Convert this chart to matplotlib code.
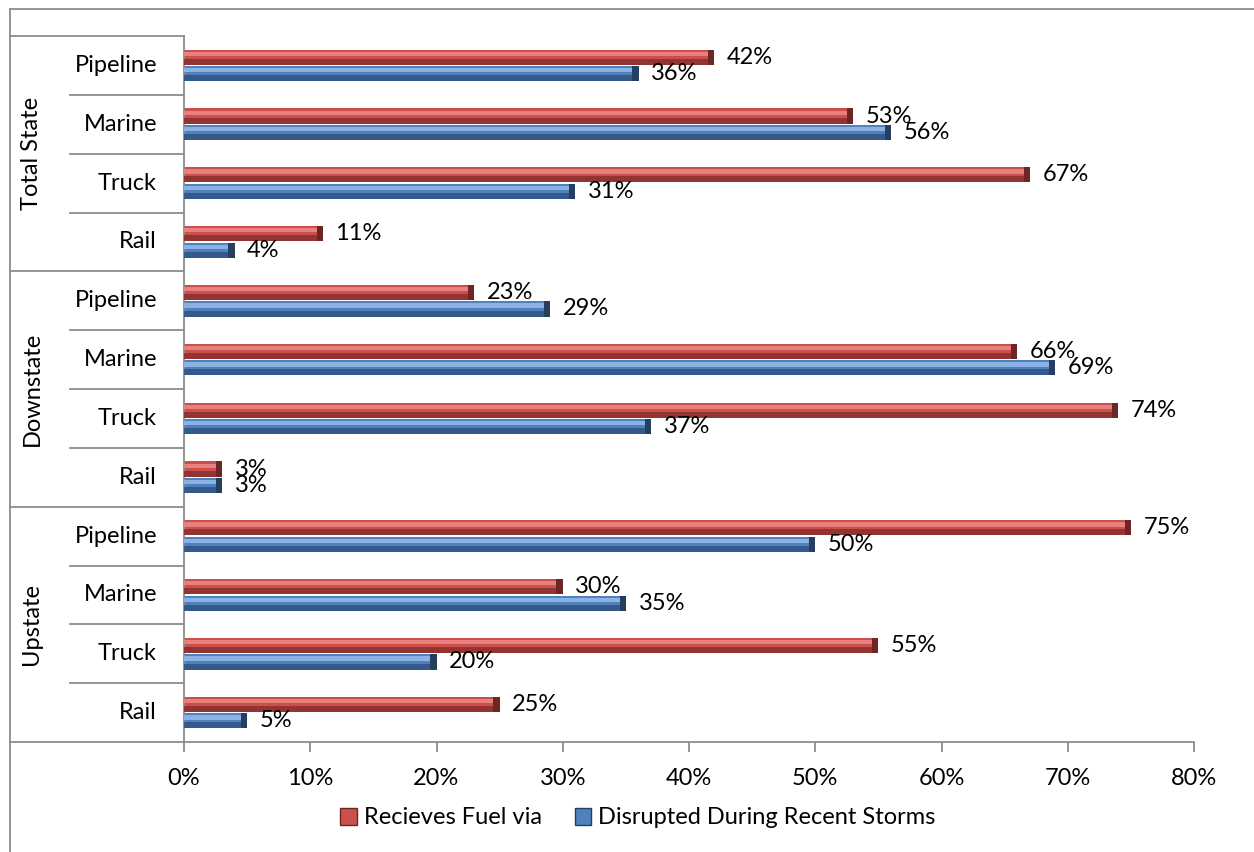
import matplotlib
matplotlib.use("Agg")
import matplotlib.pyplot as plt
from matplotlib.lines import Line2D
from matplotlib.patches import Patch

plt.rcParams['font.family'] = ['Lato', 'DejaVu Sans']

# fuel delivery survey, by region and mode
groups = ['Total State', 'Downstate', 'Upstate']
modes = ['Pipeline', 'Marine', 'Truck', 'Rail']
receives = [42, 53, 67, 11,
            23, 66, 74, 3,
            75, 30, 55, 25]
disrupted = [36, 56, 31, 4,
             29, 69, 37, 3,
             50, 35, 20, 5]
series_names = ['Recieves Fuel via', 'Disrupted During Recent Storms']
xticks = [0, 10, 20, 30, 40, 50, 60, 70, 80]

W, H = 1254, 852
FS = 17
fig = plt.figure(figsize=(W / 100, H / 100), dpi=100)


def fx(px):
    return px / W


def fy(py):
    return 1 - py / H


ax = fig.add_axes([fx(184), fy(742), fx(1194) - fx(184), fy(36) - fy(742)])

n = len(receives)
ypos = [n - 1 - i for i in range(n)]  # first row at the top
bh = 0.26
off = 0.14

red = dict(base='#C9504C', light='#E9807D', dark='#943431', cap='#6E2624')
blue = dict(base='#4F81BD', light='#8AB2E4', dark='#34598A', cap='#243F60')


def fancy_bars(yc, vals, c):
    # flat bar plus a highlight band, a shadow band and a dark end cap
    ax.barh(yc, vals, height=bh, color=c['base'], edgecolor='none', zorder=2)
    ax.barh([y + bh * 0.22 for y in yc], vals, height=bh * 0.28,
            color=c['light'], edgecolor='none', zorder=3)
    ax.barh([y - bh * 0.30 for y in yc], vals, height=bh * 0.40,
            color=c['dark'], edgecolor='none', zorder=3)
    cap = 0.5
    ax.barh(yc, [cap] * len(vals), left=[v - cap for v in vals], height=bh,
            color=c['cap'], edgecolor='none', zorder=4)


yr = [y + off for y in ypos]
yb = [y - off for y in ypos]
fancy_bars(yr, receives, red)
fancy_bars(yb, disrupted, blue)

for y, v in zip(yr, receives):
    ax.text(v + 1.0, y, f'{v}%', va='center', ha='left', fontsize=FS, color='black')
for y, v in zip(yb, disrupted):
    ax.text(v + 1.0, y, f'{v}%', va='center', ha='left', fontsize=FS, color='black')

ax.set_xlim(0, 80)
ax.set_ylim(-0.5, n - 0.5)
ax.set_xticks(xticks)
ax.set_xticklabels([f'{t}%' for t in xticks], fontsize=FS)
ax.set_yticks([])
ax.tick_params(axis='x', direction='out', length=7, width=1.3, color='#8C8C8C', pad=12)
for s in ['top', 'right']:
    ax.spines[s].set_visible(False)
for s in ['left', 'bottom']:
    ax.spines[s].set_color('#8C8C8C')
    ax.spines[s].set_linewidth(1.3)
ax.patch.set_alpha(0)

# category labels and separators on the left
grey = '#8C8C8C'
row_h = (742 - 36) / n
for i in range(n):
    yc = 36 + row_h * (i + 0.5)
    fig.text(fx(157), fy(yc), modes[i % 4], ha='right', va='center', fontsize=FS)
for i in range(n + 1):
    yl = 36 + row_h * i
    x0 = 10 if i % 4 == 0 else 70
    fig.add_artist(Line2D([fx(x0), fx(184)], [fy(yl), fy(yl)], color=grey, lw=1.3))
for g, name in enumerate(groups):
    yc = 36 + row_h * (4 * g + 2)
    fig.text(fx(32), fy(yc), name, rotation=90, ha='center', va='center', fontsize=FS)

# chart border
fig.add_artist(Line2D([fx(10), fx(W)], [fy(9), fy(9)], color=grey, lw=1.3))
fig.add_artist(Line2D([fx(10), fx(10)], [fy(9), 0], color=grey, lw=1.3))

handles = [Patch(facecolor=red['base'], edgecolor=red['cap']),
           Patch(facecolor=blue['base'], edgecolor=blue['cap'])]
fig.legend(handles, series_names, loc='center', bbox_to_anchor=(fx(638), fy(818)),
           ncol=2, frameon=False, fontsize=FS, handlelength=0.7, handleheight=0.7,
           handletextpad=0.3, columnspacing=1.4)

fig.savefig('out.png', dpi=100)
